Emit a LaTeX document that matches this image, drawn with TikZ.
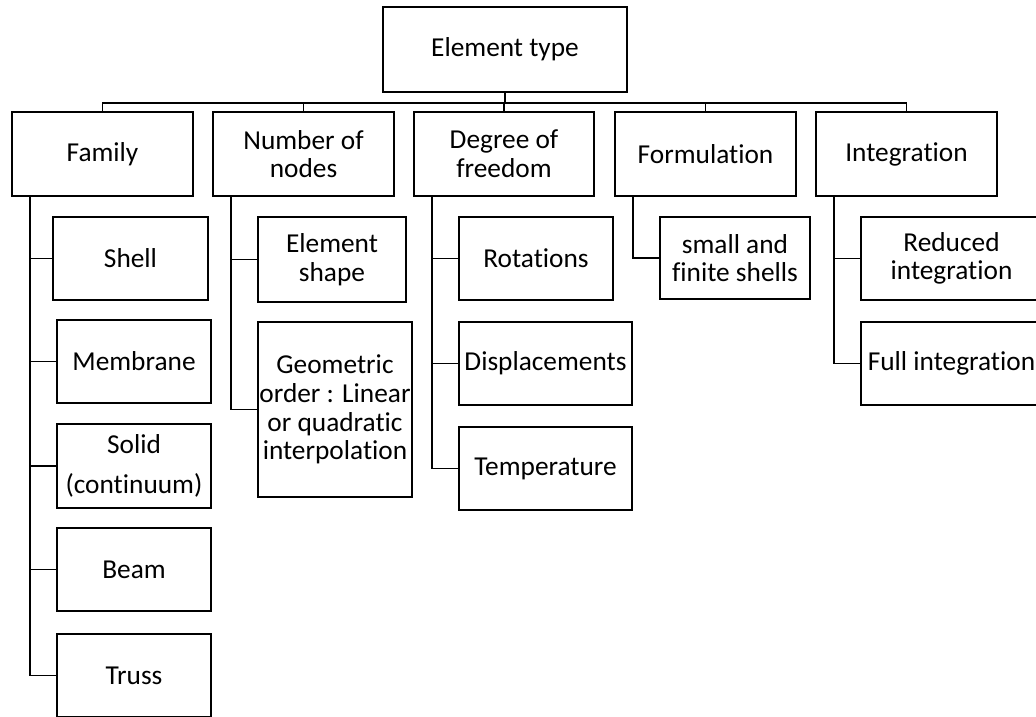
\documentclass[tikz,border=0pt]{standalone}
\usepackage{fontspec}
\setmainfont{Carlito}[Ligatures=NoCommon]
\begin{document}
\begin{tikzpicture}[x=0.75pt,y=-0.75pt,
  box/.style={draw,line width=1.6pt,inner sep=0pt,align=center,
    font=\fontsize{20.5}{21.5}\selectfont},
  bx/.style 2 args={box,minimum width=#1*0.75pt,minimum height=#2*0.75pt},
  conn/.style={line width=0.9pt}]
\path[use as bounding box,clip] (0,0) rectangle (1036,717);
% root
\node[bx={244}{85}] (top) at (505,49.5) {Element type};
% level 1
\node[bx={181}{84}] (fam) at (102.5,154) {Family};
\node[bx={181}{84}] (num) at (303.5,154) {Number of\\nodes};
\node[bx={180}{84}] (dof) at (504,154) {Degree of\\freedom};
\node[bx={181}{84}] (form) at (705.5,154) {Formulation};
\node[bx={181}{84}] (integ) at (906.5,154) {Integration};
% family children
\node[bx={155}{83}] (shell) at (130.5,258.5) {Shell};
\node[bx={154}{83}] (memb) at (134,361.5) {Membrane};
\node[bx={154}{84}] (solid) at (134,466) {Solid\\[9pt](continuum)};
\node[bx={154}{83}] (beam) at (134,569.5) {Beam};
\node[bx={154}{83}] (truss) at (134,675.5) {Truss};
% number of nodes children
\node[bx={148}{85}] (shape) at (332,259.5) {Element\\shape};
\node[bx={154}{175}] (geom) at (335,409.5) {Geometric\\order : Linear\\or quadratic\\interpolation};
% dof children
\node[bx={154}{83}] (rot) at (536,258.5) {Rotations};
\node[bx={173}{83}] (disp) at (545.5,363.5) {Displacements};
\node[bx={173}{83}] (temp) at (545.5,468.5) {Temperature};
% formulation child
\node[bx={150}{82}] (small) at (735,258) {small and\\finite shells};
% integration children
\node[bx={181}{83}] (red) at (951.5,258.5) {Reduced\\integration};
\node[bx={181}{83}] (full) at (951.5,363.5) {Full integration};
% trunk coordinates
\coordinate (famT) at (30,196);
\coordinate (numT) at (231,196);
\coordinate (dofT) at (432,196);
\coordinate (formT) at (633,196);
\coordinate (integT) at (834,196);
% connectors root -> level 1
\foreach \n in {fam,num,dof,form,integ}
  \draw[conn] (top.south) -- ++(0,10) -| (\n.north);
% level 2
\foreach \n in {shell,memb,solid,beam,truss}
  \draw[conn] (famT) |- (\n.west);
\foreach \n in {shape,geom}
  \draw[conn] (numT) |- (\n.west);
\foreach \n in {rot,disp,temp}
  \draw[conn] (dofT) |- (\n.west);
\draw[conn] (formT) |- (small.west);
\foreach \n in {red,full}
  \draw[conn] (integT) |- (\n.west);
\end{tikzpicture}
\end{document}
